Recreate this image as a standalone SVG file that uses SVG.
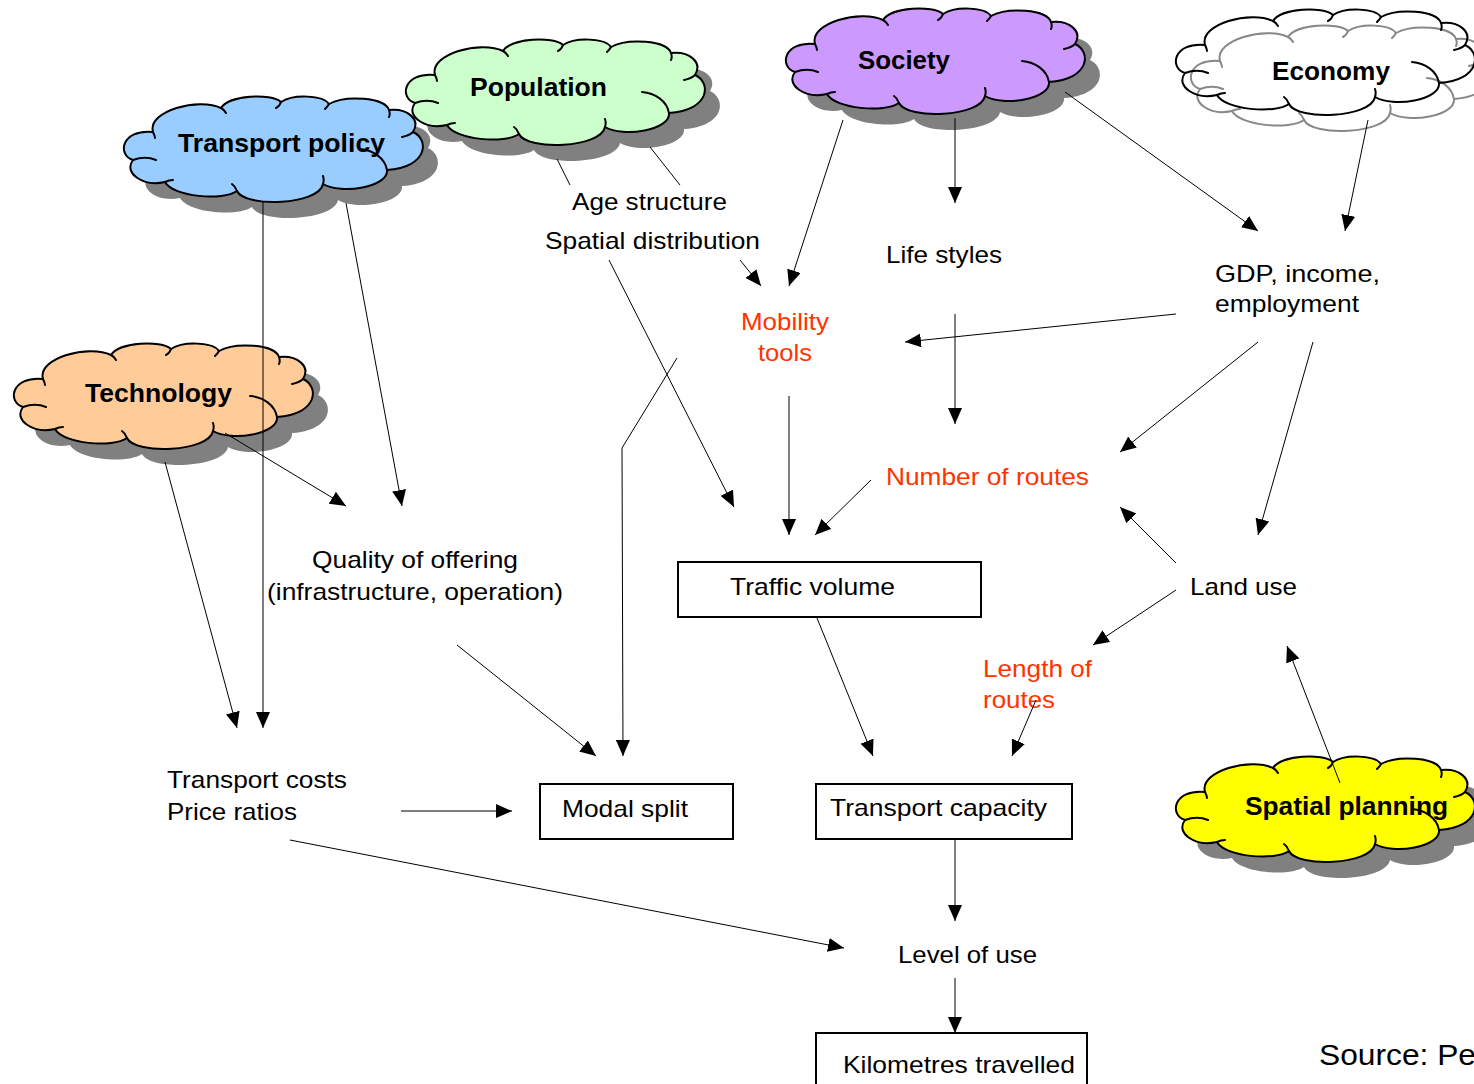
<svg xmlns="http://www.w3.org/2000/svg" xmlns:xlink="http://www.w3.org/1999/xlink" width="1474" height="1084" viewBox="0 0 1474 1084">
<style>
.bg{fill:#fff}
.shadow{fill:#808080;stroke:none}
.cloud{stroke:#000;stroke-width:2;stroke-linejoin:round}
.crease{fill:none;stroke:#000;stroke-width:2;stroke-linecap:round}
.eshadow{fill:#fff;stroke:#888;stroke-width:2}
.ecrease{fill:none;stroke:#888;stroke-width:2;stroke-linecap:round}
.efront{fill:none;stroke:#000;stroke-width:2}
.ct{font-family:"Liberation Sans",Arial,sans-serif;font-weight:bold;font-size:25px;fill:#000}
.t{font-family:"Liberation Sans",Arial,sans-serif;font-size:24px;fill:#000}
.r{fill:#ff3300}
.box{fill:#fff;stroke:#000;stroke-width:2}
.conn line,.conn polyline{stroke:#000;stroke-width:1;fill:none}
.arr{marker-end:url(#ah)}
</style>
<defs>
<marker id="ah" viewBox="0 0 16 14" refX="16" refY="7" markerWidth="16" markerHeight="14" markerUnits="userSpaceOnUse" orient="auto">
<path d="M0,0 L16,7 L0,14 Z" fill="#000"/>
</marker>
<path id="cloudOutline" d="M30,37 C24,16 76,2 98,13 C106,0 148,-2 158,7 C170,-1 200,0 206,9 C222,0 262,2 266,15 C284,13 298,24 290,37 C306,44 306,72 264,75 C266,92 218,100 200,89 C196,110 122,113 114,96 C100,106 50,102 42,87 C20,92 0,78 10,65 C-6,60 -2,34 30,37 Z"/>
<path id="cloudCreases" d="M10,65 C18,62 26,62 33,65 M42,87 C44,86 47,85 50,85 M114,96 C113,93 112,91 109,89 M200,89 C201,86 201,84 200,81 M264,75 C262,63 250,55 237,54 M290,37 C287,40 284,41 279,42 M266,15 C267,18 267,20 266,22 M206,9 C205,11 204,12 202,14 M158,7 C157,10 155,12 153,13 M98,13 C100,14 102,16 103,18 M30,37 C31,39 32,41 32,43"/>
</defs>
<rect class="bg" x="0" y="0" width="1474" height="1084"/>

<g id="population">
<g transform="translate(405,38)">
<use xlink:href="#cloudOutline" class="shadow" x="15" y="16"/>
<use xlink:href="#cloudOutline" class="cloud" fill="#ccffcc"/>
<use xlink:href="#cloudCreases" class="crease"/>
</g>
<text class="ct" x="470" y="96" textLength="137" lengthAdjust="spacingAndGlyphs">Population</text>
</g>

<g id="transport-policy">
<g transform="translate(123,95)">
<use xlink:href="#cloudOutline" class="shadow" x="15" y="16"/>
<use xlink:href="#cloudOutline" class="cloud" fill="#99ccff"/>
<use xlink:href="#cloudCreases" class="crease"/>
</g>
<text class="ct" x="178" y="152" textLength="207" lengthAdjust="spacingAndGlyphs">Transport policy</text>
</g>

<g id="society">
<g transform="translate(785,7)">
<use xlink:href="#cloudOutline" class="shadow" x="15" y="16"/>
<use xlink:href="#cloudOutline" class="cloud" fill="#cc99ff"/>
<use xlink:href="#cloudCreases" class="crease"/>
</g>
<text class="ct" x="858" y="69" textLength="92" lengthAdjust="spacingAndGlyphs">Society</text>
</g>

<g id="economy">
<g transform="translate(1175,8)">
<use xlink:href="#cloudOutline" class="eshadow" x="15" y="16"/>
<use xlink:href="#cloudCreases" class="ecrease" x="15" y="16"/>
<use xlink:href="#cloudOutline" class="efront"/>
<use xlink:href="#cloudCreases" class="crease"/>
</g>
<text class="ct" x="1272" y="80" textLength="118" lengthAdjust="spacingAndGlyphs">Economy</text>
</g>

<g id="technology">
<g transform="translate(13,342)">
<use xlink:href="#cloudOutline" class="shadow" x="15" y="16"/>
<use xlink:href="#cloudOutline" class="cloud" fill="#ffcc99"/>
<use xlink:href="#cloudCreases" class="crease"/>
</g>
<text class="ct" x="85" y="402" textLength="147" lengthAdjust="spacingAndGlyphs">Technology</text>
</g>

<g id="spatial-planning">
<g transform="translate(1175,755)">
<use xlink:href="#cloudOutline" class="shadow" x="15" y="16"/>
<use xlink:href="#cloudOutline" class="cloud" fill="#ffff00"/>
<use xlink:href="#cloudCreases" class="crease"/>
</g>
<text class="ct" x="1245" y="815" textLength="203" lengthAdjust="spacingAndGlyphs">Spatial planning</text>
</g>

<g id="age-spatial">
<text class="t" x="572" y="210" textLength="155" lengthAdjust="spacingAndGlyphs">Age structure</text>
<text class="t" x="545" y="249" textLength="215" lengthAdjust="spacingAndGlyphs">Spatial distribution</text>
</g>
<g id="mobility-tools">
<text class="t r" x="741" y="330" textLength="88" lengthAdjust="spacingAndGlyphs">Mobility</text>
<text class="t r" x="758" y="361" textLength="54" lengthAdjust="spacingAndGlyphs">tools</text>
</g>
<g id="life-styles">
<text class="t" x="886" y="263" textLength="116" lengthAdjust="spacingAndGlyphs">Life styles</text>
</g>
<g id="gdp">
<text class="t" x="1215" y="282" textLength="165" lengthAdjust="spacingAndGlyphs">GDP, income,</text>
<text class="t" x="1215" y="312" textLength="144" lengthAdjust="spacingAndGlyphs">employment</text>
</g>
<g id="number-of-routes">
<text class="t r" x="886" y="485" textLength="203" lengthAdjust="spacingAndGlyphs">Number of routes</text>
</g>
<g id="land-use">
<text class="t" x="1190" y="595" textLength="107" lengthAdjust="spacingAndGlyphs">Land use</text>
</g>
<g id="length-of-routes">
<text class="t r" x="983" y="677" textLength="109" lengthAdjust="spacingAndGlyphs">Length of</text>
<text class="t r" x="983" y="708" textLength="72" lengthAdjust="spacingAndGlyphs">routes</text>
</g>
<g id="quality">
<text class="t" x="312" y="568" textLength="206" lengthAdjust="spacingAndGlyphs">Quality of offering</text>
<text class="t" x="267" y="600" textLength="296" lengthAdjust="spacingAndGlyphs">(infrastructure, operation)</text>
</g>
<g id="traffic-volume">
<rect class="box" x="678" y="562" width="303" height="55"/>
<text class="t" x="730" y="595" textLength="165" lengthAdjust="spacingAndGlyphs">Traffic volume</text>
</g>
<g id="transport-costs">
<text class="t" x="167" y="788" textLength="180" lengthAdjust="spacingAndGlyphs">Transport costs</text>
<text class="t" x="167" y="820" textLength="130" lengthAdjust="spacingAndGlyphs">Price ratios</text>
</g>
<g id="modal-split">
<rect class="box" x="540" y="784" width="193" height="55"/>
<text class="t" x="562" y="817" textLength="126" lengthAdjust="spacingAndGlyphs">Modal split</text>
</g>
<g id="transport-capacity">
<rect class="box" x="816" y="784" width="256" height="55"/>
<text class="t" x="830" y="816" textLength="217" lengthAdjust="spacingAndGlyphs">Transport capacity</text>
</g>
<g id="level-of-use">
<text class="t" x="898" y="963" textLength="139" lengthAdjust="spacingAndGlyphs">Level of use</text>
</g>
<g id="kilometres">
<rect class="box" x="816" y="1033" width="271" height="60"/>
<text class="t" x="843" y="1073" textLength="232" lengthAdjust="spacingAndGlyphs">Kilometres travelled</text>
</g>
<g id="source">
<text class="t" x="1319" y="1065" style="font-size:29px" textLength="157" lengthAdjust="spacingAndGlyphs">Source: Pe</text>
</g>

<g id="connectors" class="conn">
<line class="arr" x1="263" y1="201" x2="263" y2="728"/>
<line class="arr" x1="346" y1="203" x2="402" y2="506"/>
<line class="arr" x1="225" y1="433" x2="346" y2="506"/>
<line class="arr" x1="165" y1="462" x2="237" y2="728"/>
<line x1="557" y1="159" x2="570" y2="185"/>
<line x1="650" y1="147" x2="680" y2="185"/>
<line class="arr" x1="740" y1="260" x2="761" y2="286"/>
<line class="arr" x1="609" y1="260" x2="734" y2="507"/>
<line class="arr" x1="843" y1="120" x2="789" y2="286"/>
<line class="arr" x1="955" y1="118" x2="955" y2="203"/>
<line class="arr" x1="1065" y1="92" x2="1258" y2="231"/>
<line class="arr" x1="1368" y1="120" x2="1345" y2="231"/>
<line class="arr" x1="1176" y1="314" x2="905" y2="342"/>
<line class="arr" x1="955" y1="314" x2="955" y2="424"/>
<line class="arr" x1="1258" y1="342" x2="1120" y2="452"/>
<line class="arr" x1="1313" y1="342" x2="1258" y2="535"/>
<line class="arr" x1="1176" y1="563" x2="1120" y2="507"/>
<line class="arr" x1="871" y1="480" x2="815" y2="535"/>
<line class="arr" x1="789" y1="396" x2="789" y2="535"/>
<polyline class="arr" points="677,358 622,448 623,756"/>
<line class="arr" x1="457" y1="645" x2="596" y2="756"/>
<line class="arr" x1="401" y1="811" x2="512" y2="811"/>
<line class="arr" x1="290" y1="840" x2="844" y2="948"/>
<line class="arr" x1="817" y1="618" x2="873" y2="756"/>
<line class="arr" x1="1036" y1="700" x2="1012" y2="756"/>
<line class="arr" x1="1176" y1="590" x2="1093" y2="645"/>
<line class="arr" x1="1340" y1="783" x2="1287" y2="646"/>
<line class="arr" x1="955" y1="840" x2="955" y2="921"/>
<line class="arr" x1="955" y1="978" x2="955" y2="1033"/>
</g>
</svg>
